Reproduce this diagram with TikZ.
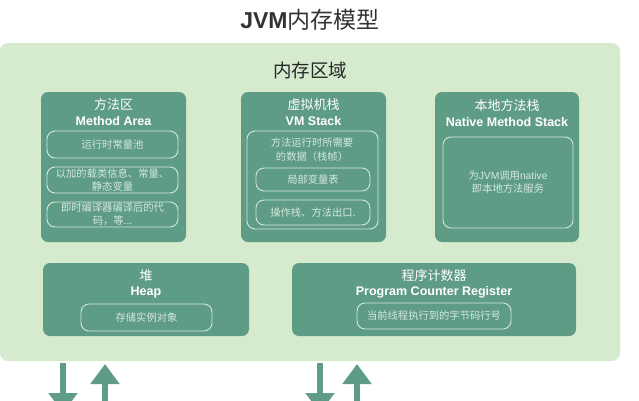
\documentclass[tikz,border=0pt]{standalone}
\usepackage{fontspec}
\setmainfont{Liberation Sans}
\newfontfamily\cjk{Noto Sans CJK SC}
\usetikzlibrary{arrows.meta}
\definecolor{outerg}{HTML}{D6EBCE}
\definecolor{boxg}{HTML}{5F9C86}
\definecolor{titleg}{HTML}{333333}
\definecolor{inner}{HTML}{D4E8DE}
\begin{document}
\begin{tikzpicture}[x=1pt,y=-1pt,
  mainbox/.style={fill=boxg, draw=none, rounded corners=7pt, inner sep=0pt, outer sep=0pt},
  inbox/.style={draw=inner, line width=0.9pt, rounded corners=8pt, inner sep=0pt, outer sep=0pt,
    text=inner, align=center, font=\cjk\fontsize{10.3}{13}\selectfont},
  zhttl/.style={text=white, inner sep=0pt, font=\cjk\fontsize{13}{15}\selectfont},
  enttl/.style={text=white, inner sep=0pt, font=\bfseries\fontsize{12.5}{14}\selectfont},
  biarrow/.style={draw=boxg, line width=5.5pt, -{Triangle[width=28pt,length=20pt]}}]
\clip (0,0) rectangle (639,400);
\fill[white] (0,0) rectangle (639,400);
% title
\node[inner sep=0pt, text=titleg] (title) at (310,20) {{\bfseries\fontsize{23}{26}\selectfont JVM}{\cjk\fontsize{23}{26}\selectfont 内存模型}};
% outer region
\node[fill=outerg, rounded corners=8pt, inner sep=0pt, outer sep=0pt, minimum width=620pt, minimum height=318pt] (region) at (310,202) {};
\node[inner sep=0pt, text=black!85, font=\cjk\fontsize{18.5}{21}\selectfont] (regionT) at (310,70) {内存区域};
% Method Area
\node[mainbox, minimum width=145pt, minimum height=150pt] (ma) at (113.5,167) {};
\node[zhttl] (maZ) at (113.5,105) {方法区};
\node[enttl] (maE) at (113.5,121) {Method Area};
\node[inbox, minimum width=131pt, minimum height=27pt] (ma1) at (112.5,144.5) {运行时常量池};
\node[inbox, minimum width=131pt, minimum height=26pt] (ma2) at (112.5,180) {以加的载类信息、常量、\\静态变量};
\node[inbox, minimum width=131pt, minimum height=25pt] (ma3) at (112.5,214.5) {即时编译器编译后的代\\码，等...};
% VM Stack
\node[mainbox, minimum width=145pt, minimum height=150pt] (vm) at (313.5,167) {};
\node[zhttl] (vmZ) at (313.5,105) {虚拟机栈};
\node[enttl] (vmE) at (313.5,121) {VM Stack};
\node[inbox, minimum width=131pt, minimum height=98pt] (vm0) at (312.5,180) {};
\node[text=inner, inner sep=0pt, align=center, font=\cjk\fontsize{10.3}{13.5}\selectfont] (vmT) at (312,149.5) {方法运行时所需要\\的数据（栈帧）};
\node[inbox, minimum width=114pt, minimum height=23pt] (vm1) at (313,179.5) {局部变量表};
\node[inbox, minimum width=114pt, minimum height=25pt] (vm2) at (313,212.5) {操作栈、方法出口.};
% Native Method Stack
\node[mainbox, minimum width=144pt, minimum height=150pt] (nm) at (507,167) {};
\node[zhttl] (nmZ) at (507,106) {本地方法栈};
\node[enttl] (nmE) at (507,122) {Native Method Stack};
\node[inbox, minimum width=130pt, minimum height=91pt] (nm1) at (508,182.5) {为{\fontspec{Liberation Sans}JVM}调用{\fontspec{Liberation Sans}native}\\即本地方法服务};
% Heap
\node[mainbox, minimum width=206pt, minimum height=73pt] (hp) at (146,299.5) {};
\node[zhttl] (hpZ) at (146,276) {堆};
\node[enttl] (hpE) at (146,292.5) {Heap};
\node[inbox, minimum width=131pt, minimum height=27pt] (hp1) at (146.5,317.5) {存储实例对象};
% Program Counter Register
\node[mainbox, minimum width=284pt, minimum height=73pt] (pc) at (434,299.5) {};
\node[zhttl] (pcZ) at (434,275.5) {程序计数器};
\node[enttl] (pcE) at (434,292) {Program Counter Register};
\node[inbox, minimum width=154pt, minimum height=26pt] (pc1) at (434,316) {当前线程执行到的字节码行号};
% arrows
\coordinate (d1s) at (63,363);
\coordinate (d1e) at (63,413);
\coordinate (u1s) at (105,410);
\coordinate (u1e) at (105,364);
\coordinate (d2s) at (320,363);
\coordinate (d2e) at (320,413);
\coordinate (u2s) at (357,410);
\coordinate (u2e) at (357,364);
\draw[biarrow] (d1s) -- (d1e);
\draw[biarrow] (u1s) -- (u1e);
\draw[biarrow] (d2s) -- (d2e);
\draw[biarrow] (u2s) -- (u2e);
\end{tikzpicture}
\end{document}
